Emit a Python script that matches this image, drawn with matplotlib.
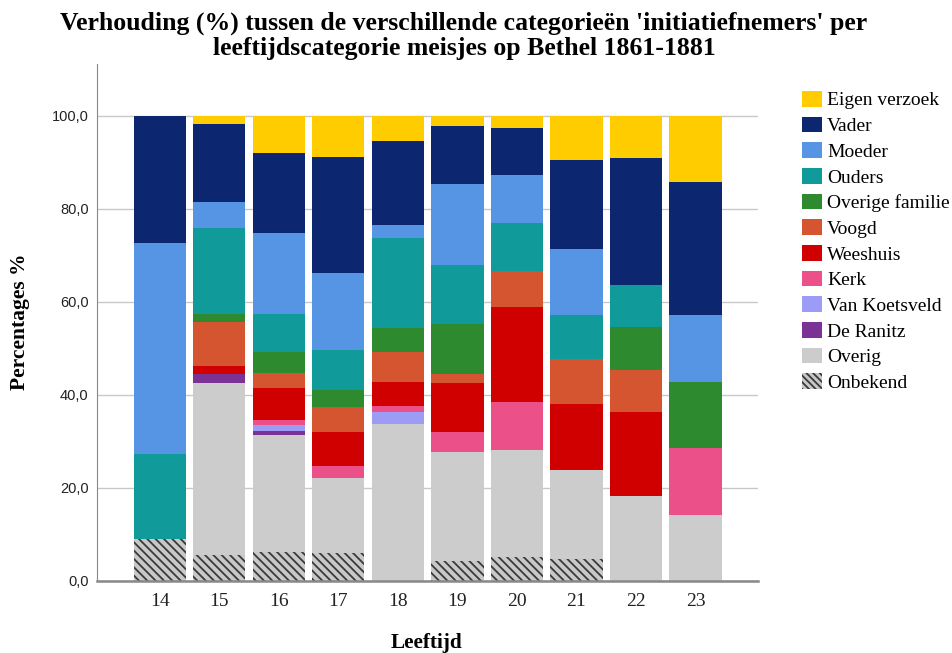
import matplotlib
matplotlib.use("Agg")
import matplotlib.pyplot as plt
import numpy as np
from matplotlib.patches import Patch

ages = ["14", "15", "16", "17", "18", "19", "20", "21", "22", "23"]

# Stack order bottom -> top
onbekend        = [9.09, 5.56, 6.2, 5.95, 0.0, 4.3, 5.13, 4.76, 0.0, 0.0]
overig          = [0.0, 37.04, 25.2, 16.15, 33.8, 23.4, 23.08, 19.05, 18.18, 14.29]
de_ranitz       = [0.0, 1.85, 0.9, 0.0, 0.0, 0.0, 0.0, 0.0, 0.0, 0.0]
van_koetsveld   = [0.0, 0.0, 1.2, 0.0, 2.5, 0.0, 0.0, 0.0, 0.0, 0.0]
kerk            = [0.0, 0.0, 1.1, 2.7, 1.3, 4.3, 10.26, 0.0, 0.0, 14.29]
weeshuis        = [0.0, 1.85, 6.8, 7.3, 5.1, 10.5, 20.51, 14.29, 18.18, 0.0]
voogd           = [0.0, 9.26, 3.4, 5.2, 6.5, 2.0, 7.69, 9.52, 9.09, 0.0]
overige_familie = [0.0, 1.85, 4.4, 3.8, 5.1, 10.8, 0.0, 0.0, 9.09, 14.29]
ouders          = [18.18, 18.52, 8.1, 8.6, 19.5, 12.7, 10.26, 9.52, 9.09, 0.0]
moeder          = [45.45, 5.56, 17.5, 16.5, 2.8, 17.3, 10.26, 14.29, 0.0, 14.29]
vader           = [27.27, 16.67, 17.2, 24.9, 18.0, 12.5, 10.26, 19.05, 27.27, 28.57]
eigen_verzoek   = [0.0, 1.85, 8.0, 8.9, 5.4, 2.2, 2.56, 9.52, 9.09, 14.29]

title_lines = ["Verhouding (%) tussen de verschillende categorieën 'initiatiefnemers' per",
               "leeftijdscategorie meisjes op Bethel 1861-1881"]

series = [
    ("Onbekend", onbekend, "#c8c8c8"),
    ("Overig", overig, "#cccccc"),
    ("De Ranitz", de_ranitz, "#7a3294"),
    ("Van Koetsveld", van_koetsveld, "#9c9cf7"),
    ("Kerk", kerk, "#ec5088"),
    ("Weeshuis", weeshuis, "#d00000"),
    ("Voogd", voogd, "#d4552f"),
    ("Overige familie", overige_familie, "#2e8a2e"),
    ("Ouders", ouders, "#109a9a"),
    ("Moeder", moeder, "#5595e4"),
    ("Vader", vader, "#0c2670"),
    ("Eigen verzoek", eigen_verzoek, "#ffcc00"),
]

plt.rcParams["hatch.linewidth"] = 1.3

fig = plt.figure(figsize=(9.53, 6.53), dpi=100)
ax = fig.add_axes([97 / 953, 1 - 581 / 653, (758 - 97) / 953, (581 - 64) / 653])

x = np.arange(len(ages))
bottom = np.zeros(len(ages))
handles = []
for name, vals, col in series:
    vals = np.array(vals)
    if name == "Onbekend":
        ax.bar(x, vals, 0.878, bottom=bottom, color=col, edgecolor="#3a3a3a",
               linewidth=0, hatch="\\\\\\\\", zorder=2)
        handles.append(Patch(facecolor=col, edgecolor="#3a3a3a", linewidth=0, hatch="\\\\\\\\\\"))
    else:
        ax.bar(x, vals, 0.878, bottom=bottom, color=col, linewidth=0, zorder=2)
        handles.append(Patch(facecolor=col, linewidth=0))
    bottom += vals

ax.set_xlim(-1.054, 10.05)
ax.set_ylim(0, 111.1)
ax.set_yticks([0, 20, 40, 60, 80, 100])
ax.set_yticklabels(["0,0", "20,0", "40,0", "60,0", "80,0", "100,0"],
                   fontfamily="Liberation Sans", fontsize=10.5, color="#222222")
ax.set_xticks(x)
ax.set_xticklabels(ages, fontfamily="Liberation Serif", fontsize=14, color="#222222")
ax.tick_params(axis="both", length=0)
ax.tick_params(axis="x", pad=9)
ax.tick_params(axis="y", pad=6)
ax.yaxis.grid(True, color="#c8c8c8", linewidth=1.0, zorder=0)
ax.set_axisbelow(True)
for s in ["top", "right"]:
    ax.spines[s].set_visible(False)
ax.spines["left"].set_color("#888888")
ax.spines["bottom"].set_color("#888888")
ax.spines["bottom"].set_linewidth(1.8)

fig.text(20 / 953, 1 - 322 / 653, "Percentages %", rotation=90, ha="center", va="center",
         fontfamily="Liberation Serif", fontweight="bold", fontsize=15.5)
fig.text(427 / 953, 1 - 643 / 653, "Leeftijd", ha="center", va="center",
         fontfamily="Liberation Serif", fontweight="bold", fontsize=15.3)
for line, base in zip(title_lines, [30, 55]):
    fig.text(464 / 953, 1 - base / 653, line, ha="center", va="baseline",
             fontfamily="Liberation Serif", fontweight="bold", fontsize=18.5)

labels = [s[0] for s in series][::-1]
handles = handles[::-1]
fig.legend(handles, labels, loc="upper left", bbox_to_anchor=(802 / 953, 1 - 91 / 653),
           frameon=False, prop={"family": "Liberation Serif", "size": 14},
           handlelength=1.05, handleheight=0.85, handletextpad=0.25, labelspacing=0.37,
           borderaxespad=0, borderpad=0)

fig.savefig("out.png", dpi=100)
